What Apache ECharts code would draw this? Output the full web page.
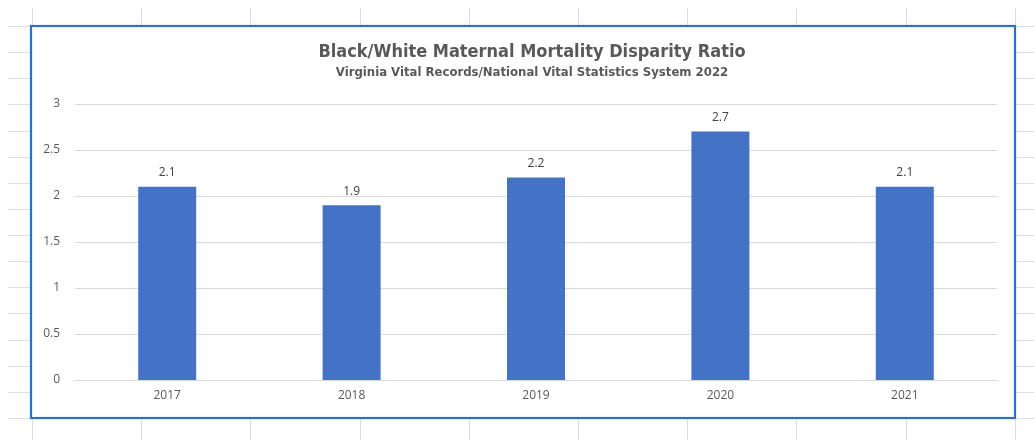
<!DOCTYPE html>
<html>
<head>
<meta charset="utf-8">
<script src="https://cdn.jsdelivr.net/npm/echarts@6/dist/echarts.min.js"></script>
<style>
  html, body { margin: 0; padding: 0; background: #ffffff; }
  #chart { width: 1034px; height: 440px; }
</style>
</head>
<body>
<div id="chart"></div>
<script>
// Black/White maternal mortality disparity ratio by year
const years = ['2017', '2018', '2019', '2020', '2021'];
const ratios = [2.1, 1.9, 2.2, 2.7, 2.1];
const titleText = 'Black/White Maternal Mortality Disparity Ratio';
const subtitleText = 'Virginia Vital Records/National Vital Statistics System 2022';

// Worksheet cell lines behind the embedded chart
const sheetLines = [];
const colX0 = 32, colW = 109.2, rowY0 = 26, rowH = 26.13;
for (let k = 0; k < 10; k++) {
  const x = Math.round(colX0 + k * colW) + 0.5;
  sheetLines.push({ type: 'line', z: -2, silent: true,
    shape: { x1: x, y1: 8, x2: x, y2: 440 },
    style: { stroke: '#dedede', lineWidth: 1 } });
}
for (let k = 0; k < 16; k++) {
  const y = Math.round(rowY0 + k * rowH) + 0.5;
  sheetLines.push({ type: 'line', z: -2, silent: true,
    shape: { x1: 8, y1: y, x2: 1034, y2: y },
    style: { stroke: '#dedede', lineWidth: 1 } });
}

const narrow = '"DejaVu Sans Condensed", "Liberation Sans", sans-serif';

const chart = echarts.init(document.getElementById('chart'));
chart.setOption({
  backgroundColor: '#ffffff',
  animation: false,
  graphic: sheetLines.concat([
    { type: 'rect', z: -1, silent: true,
      shape: { x: 31, y: 26, width: 984, height: 392 },
      style: { fill: '#ffffff', stroke: '#2a74bd', lineWidth: 2, shadowColor: 'rgba(120,180,230,0.6)', shadowBlur: 2 } }
  ]),
  title: {
    text: titleText,
    subtext: subtitleText,
    left: 527,
    top: 38,
    textAlign: 'center',
    itemGap: 5,
    textStyle: { fontFamily: narrow, fontWeight: 'bold', fontSize: 18, color: '#595959' },
    subtextStyle: { fontFamily: narrow, fontWeight: 'bold', fontSize: 13, color: '#595959' }
  },
  grid: { left: 75, right: 37, top: 104, bottom: 60 },
  xAxis: {
    type: 'category',
    data: years,
    axisLine: { show: true, lineStyle: { color: '#d9d9d9' } },
    axisTick: { show: false },
    axisLabel: { color: '#595959', fontSize: 12, fontFamily: 'Open Sans', margin: 10 }
  },
  yAxis: {
    type: 'value',
    min: 0, max: 3, interval: 0.5,
    axisLine: { show: false },
    axisTick: { show: false },
    splitLine: { lineStyle: { color: '#d9d9d9' } },
    axisLabel: { color: '#595959', fontSize: 12, fontFamily: 'Open Sans', margin: 15,
      formatter: v => String(v) }
  },
  series: [{
    type: 'bar',
    data: ratios,
    barWidth: 58,
    itemStyle: { color: '#4472c4' },
    label: { show: true, position: 'top', distance: 8, color: '#404040', fontSize: 12, fontFamily: 'Open Sans' }
  }]
});
</script>
</body>
</html>
